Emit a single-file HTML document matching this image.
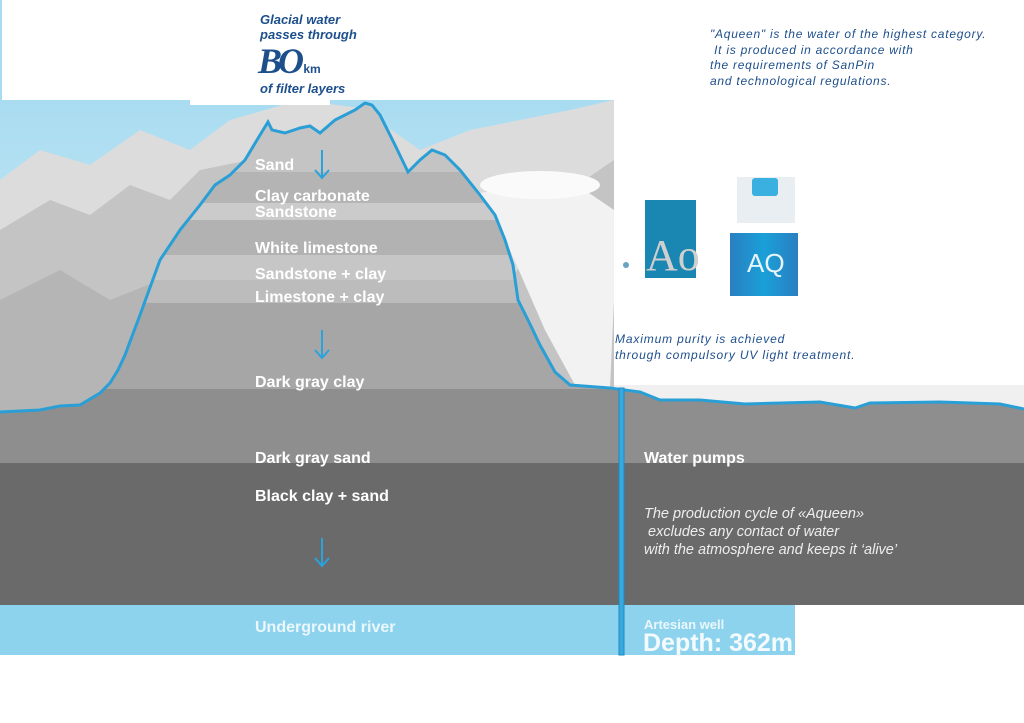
<!DOCTYPE html>
<html><head><meta charset="utf-8"><style>
body{margin:0;width:1024px;height:723px;overflow:hidden;background:#fff;position:relative;font-family:"Liberation Sans",sans-serif}
.t{position:absolute;color:#fff;font-weight:bold;font-size:16px;white-space:nowrap}
.b{position:absolute;color:#1d4f8c;font-style:italic;white-space:nowrap}
</style></head><body>
<svg width="1024" height="723" style="position:absolute;left:0;top:0">
<defs>
<linearGradient id="sky" x1="0" y1="0" x2="0" y2="1"><stop offset="0" stop-color="#a9dcf1"/><stop offset="1" stop-color="#d5ecf5"/></linearGradient>
<clipPath id="mt"><path d="M0,412 L40,410 60,406 80,405 100,393 110,383 118,370 125,355 140,315 160,260 180,230 200,205 215,185 230,175 245,160 260,135 268,122 272,130 285,133 300,128 310,126 320,133 335,120 355,110 365,103 372,105 380,115 395,145 408,172 420,160 432,150 445,155 460,170 480,195 495,215 505,240 513,265 518,300 528,320 540,345 555,372 570,385 610,388 640,392 660,400 700,400 745,404 820,402 855,408 870,403 940,402 1000,404 1024,409 L1024,470 L0,470Z"/></clipPath>
<linearGradient id="lab" x1="0" y1="0" x2="1" y2="0"><stop offset="0" stop-color="#2a7fc0"/><stop offset="0.5" stop-color="#1aa0d8"/><stop offset="1" stop-color="#2a7fc0"/></linearGradient>
</defs>
<line x1="1" y1="0" x2="1" y2="100" stroke="#a9dcf1" stroke-width="2"/>
<rect x="0" y="100" width="614" height="320" fill="url(#sky)"/>
<path d="M0,180 L40,150 90,165 140,130 190,150 230,120 300,100 360,108 420,150 470,130 520,120 570,110 614,100 L614,420 L0,420Z" fill="#dcdcdc"/>
<path d="M0,230 L50,200 90,215 130,185 170,200 200,170 250,160 300,190 330,240 360,300 400,340 450,330 500,300 540,230 570,190 614,160 L614,420 L0,420Z" fill="#c4c4c4"/>
<path d="M0,300 L60,270 110,300 160,280 220,330 260,390 L0,420Z" fill="#b5b5b5"/>
<path d="M430,200 L470,180 510,250 545,330 575,385 610,388 614,300 614,210 570,180Z" fill="#f2f2f2"/>
<ellipse cx="540" cy="185" rx="60" ry="14" fill="#fafafa"/>
<rect x="190" y="95" width="140" height="10" fill="#fff"/>
<rect x="614" y="0" width="410" height="385" fill="#fff"/>
<rect x="614" y="385" width="410" height="35" fill="#f0f0f0"/>
<g clip-path="url(#mt)">
<rect x="0" y="95" width="1024" height="380" fill="#9a9a9a"/>
<rect x="0" y="95" width="1024" height="77" fill="#c4c4c4"/>
<rect x="0" y="172" width="1024" height="31" fill="#b4b4b4"/>
<rect x="0" y="203" width="1024" height="17" fill="#cbcbcb"/>
<rect x="0" y="220" width="1024" height="35" fill="#b2b2b2"/>
<rect x="0" y="255" width="1024" height="25" fill="#c6c6c6"/>
<rect x="0" y="280" width="1024" height="23" fill="#bcbcbc"/>
<rect x="0" y="303" width="1024" height="86" fill="#a6a6a6"/>
<rect x="0" y="389" width="1024" height="80" fill="#8e8e8e"/>
</g>
<rect x="0" y="463" width="1024" height="142" fill="#6a6a6a"/>
<rect x="0" y="605" width="795" height="50" fill="#8ed3ee"/>
<path d="M0,412 L40,410 60,406 80,405 100,393 110,383 118,370 125,355 140,315 160,260 180,230 200,205 215,185 230,175 245,160 260,135 268,122 272,130 285,133 300,128 310,126 320,133 335,120 355,110 365,103 372,105 380,115 395,145 408,172 420,160 432,150 445,155 460,170 480,195 495,215 505,240 513,265 518,300 528,320 540,345 555,372 570,385 610,388 640,392 660,400 700,400 745,404 820,402 855,408 870,403 940,402 1000,404 1024,409" fill="none" stroke="#2a9fd6" stroke-width="3"/>
<rect x="619" y="388" width="5" height="267" fill="#3aa8dc" stroke="#1b8cc8" stroke-width="1"/>
<g stroke="#2aa3dc" stroke-width="2" fill="none">
<path d="M322,150 V178 M315,170 L322,178 329,170"/>
<path d="M322,330 V358 M315,350 L322,358 329,350"/>
<path d="M322,538 V566 M315,558 L322,566 329,558"/>
</g>
<rect x="645" y="200" width="51" height="78" fill="#1a86b2"/>
<text x="646" y="270" font-family="Liberation Serif" font-size="44" fill="#cfcfcf">Ao</text>
<circle cx="626" cy="265" r="3" fill="#6aa0c0"/>
<rect x="737" y="177" width="58" height="46" fill="#e8eef2"/>
<rect x="752" y="178" width="26" height="18" rx="3" fill="#3ab0e0"/>
<rect x="730" y="233" width="68" height="63" fill="url(#lab)"/>
<text x="747" y="272" font-size="26" fill="#e8f4fb">AQ</text>
</svg>
<div class="b" style="left:260px;top:12px;font-size:13px;font-weight:bold">Glacial water</div>
<div class="b" style="left:260px;top:27px;font-size:13px;font-weight:bold">passes through</div>
<div class="b" style="left:258px;top:40px;font-size:36px;font-weight:bold;font-family:'Liberation Serif',serif;letter-spacing:-4px">BO<span style="font-family:'Liberation Sans';font-size:12px;font-style:normal;letter-spacing:0">&nbsp;km</span></div>
<div class="b" style="left:260px;top:81px;font-size:13px;font-weight:bold">of filter layers</div>
<div class="b" style="left:710px;top:27px;font-size:12px;line-height:15.5px;letter-spacing:0.75px">"Aqueen" is the water of the highest category.<br>&nbsp;It is produced in accordance with<br>the requirements of SanPin<br>and technological regulations.</div>
<div class="b" style="left:615px;top:331px;font-size:12px;line-height:16px;letter-spacing:0.85px">Maximum purity is achieved<br>through compulsory UV light treatment.</div>
<div class="t" style="left:255px;top:157px">Sand</div>
<div class="t" style="left:255px;top:188px">Clay carbonate</div>
<div class="t" style="left:255px;top:204px">Sandstone</div>
<div class="t" style="left:255px;top:240px">White limestone</div>
<div class="t" style="left:255px;top:266px">Sandstone + clay</div>
<div class="t" style="left:255px;top:289px">Limestone + clay</div>
<div class="t" style="left:255px;top:374px">Dark gray clay</div>
<div class="t" style="left:255px;top:450px">Dark gray sand</div>
<div class="t" style="left:255px;top:488px">Black clay + sand</div>
<div class="t" style="left:255px;top:619px;color:#eaf7fc">Underground river</div>
<div class="t" style="left:644px;top:450px">Water pumps</div>
<div class="t" style="left:644px;top:505px;font-weight:normal;font-style:italic;font-size:14.5px;line-height:18px;color:#eee">The production cycle of «Aqueen»<br>&nbsp;excludes any contact of water<br>with the atmosphere and keeps it ‘alive’</div>
<div class="t" style="left:644px;top:617px;font-size:13px;color:#eaf7fc">Artesian well</div>
<div class="t" style="left:643px;top:629px;font-size:25px;color:#f4fbfe">Depth: 362m</div>
</body></html>
